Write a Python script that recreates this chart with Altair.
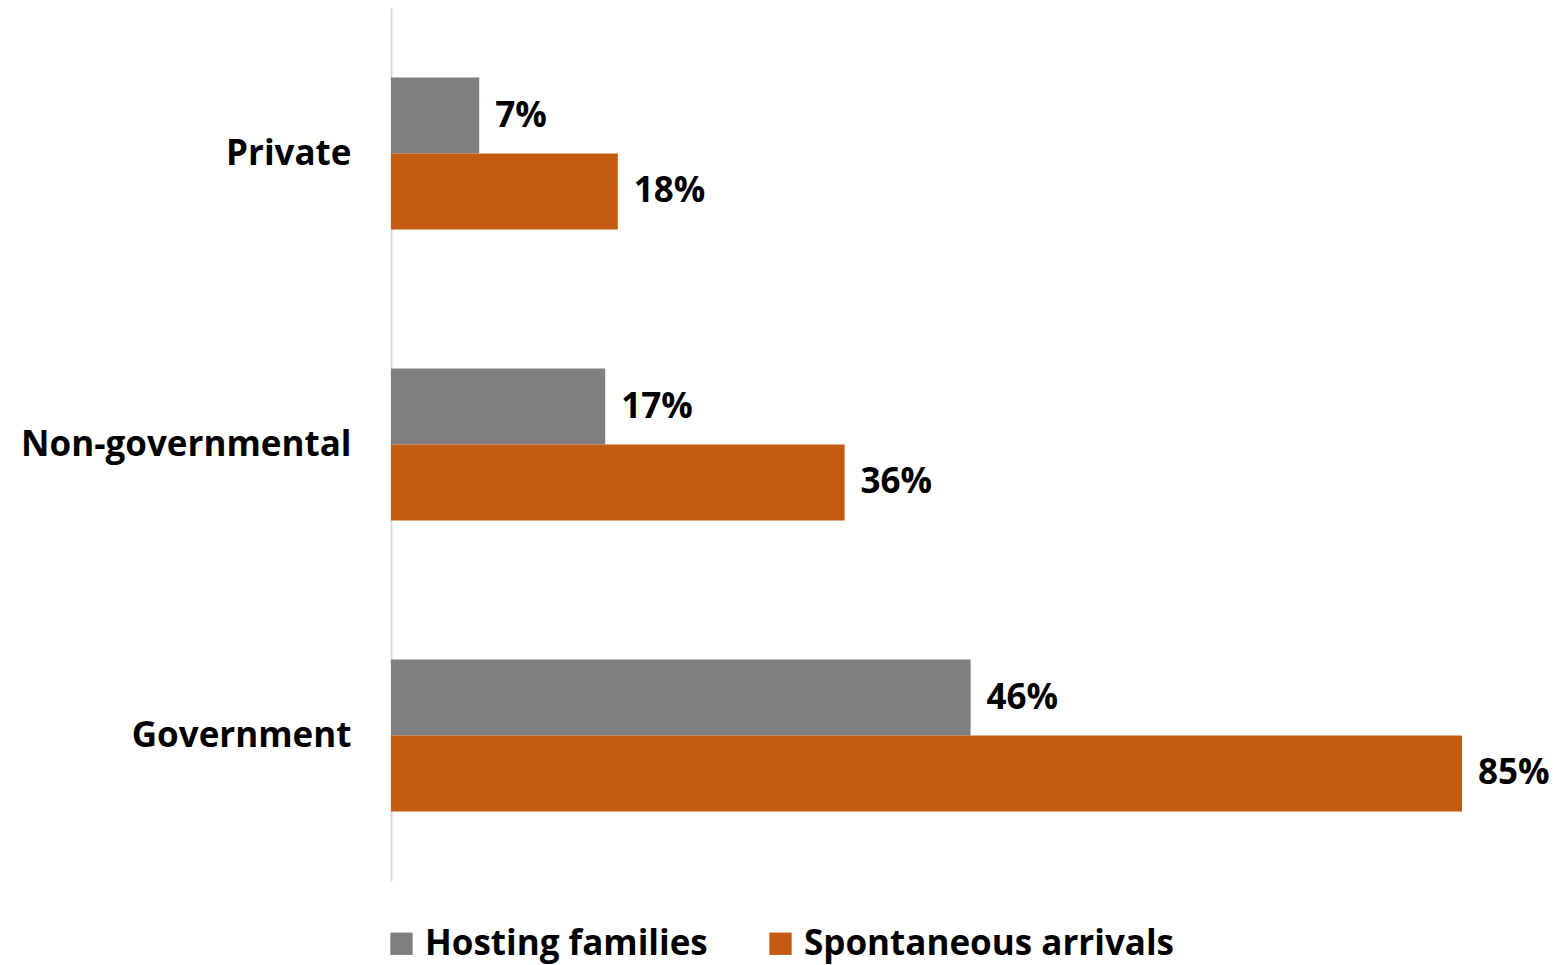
import altair as alt
import pandas as pd

categories = ["Private", "Non-governmental", "Government"]
series = ["Hosting families", "Spontaneous arrivals"]
hosting = [7, 17, 46]
spontaneous = [18, 36, 85]
colors = ["#7F7F7F", "#C55A11"]

rows = []
for c, h, s in zip(categories, hosting, spontaneous):
    rows.append({"category": c, "series": series[0], "value": h, "label": f"{h}%"})
    rows.append({"category": c, "series": series[1], "value": s, "label": f"{s}%"})
df = pd.DataFrame(rows)

FONT = "Open Sans"
FS = 35

y = alt.Y("category:N", sort=categories,
          scale=alt.Scale(paddingInner=0.478, paddingOuter=0.239),
          axis=alt.Axis(title=None, ticks=False, labelFont=FONT, labelFontSize=FS,
                        labelFontWeight="bold", labelColor="#000000", labelPadding=40,
                        labelLimit=600, domainColor="#D9D9D9", domainWidth=2))
x = alt.X("value:Q", scale=alt.Scale(domain=[0, 85], nice=False), axis=None)
yoff = alt.YOffset("series:N", sort=series)

bars = alt.Chart(df).mark_bar().encode(
    y=y, x=x, yOffset=yoff,
    color=alt.Color("series:N", sort=series,
                    scale=alt.Scale(domain=series, range=colors),
                    legend=alt.Legend(title=None, orient="none", direction="horizontal",
                                      legendX=-7, legendY=918,
                                      symbolType="square", symbolSize=500,
                                      symbolStrokeWidth=0, labelFont=FONT,
                                      labelFontSize=FS, labelFontWeight="bold",
                                      labelColor="#000000", columnPadding=55,
                                      labelOffset=6, labelLimit=600)),
)

text = alt.Chart(df).mark_text(align="left", baseline="middle", dx=16,
                               font=FONT, fontSize=FS, fontWeight="bold",
                               color="#000000").encode(
    y=y, x=x, yOffset=yoff, text="label:N")

chart = (bars + text).properties(
    width=1071, height=873,
    padding={"top": 0, "left": 12, "right": 5, "bottom": 5},
).configure_view(stroke=None).configure_axis(grid=False)

chart.save("out.html", embed_options={"renderer": "svg", "actions": False})
